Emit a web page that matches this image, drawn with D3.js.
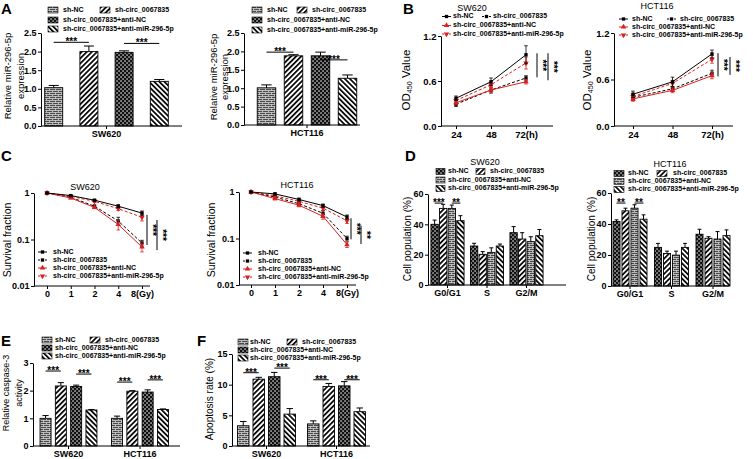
<!DOCTYPE html>
<html><head><meta charset="utf-8">
<script src="https://cdn.jsdelivr.net/npm/d3@7"></script>
<style>
body{margin:0;background:#fff}
svg{display:block;font-family:"Liberation Sans",Arial,Helvetica,sans-serif}
</style></head><body>
<svg id="fig" width="753" height="459"></svg>
<script>
// ---------------- DATA ----------------
const groups = ["sh-NC","sh-circ_0067835","sh-circ_0067835+anti-NC","sh-circ_0067835+anti-miR-296-5p"];

// A: relative miR-296-5p expression (group order)
const aSW620 = [1.03, 2.00, 1.98, 1.20];
const aSW620Err = [0.06, 0.15, 0.04, 0.05];
const aHCT116 = [1.01, 1.88, 1.88, 1.27];
const aHCT116Err = [0.08, 0.03, 0.10, 0.09];
const aTicks = [0, 0.5, 1.0, 1.5, 2.0, 2.5];

// B: OD450 value over time [group][time]
const hours = ["24","48","72(h)"];
const bSW620 = [[0.37,0.59,0.95],[0.29,0.48,0.64],[0.31,0.48,0.59],[0.34,0.55,0.84]];
const bSW620Err = [[0.03,0.05,0.12],[0.03,0.04,0.03],[0.03,0.04,0.03],[0.03,0.04,0.08]];
const bHCT116 = [[0.41,0.57,0.93],[0.37,0.48,0.68],[0.35,0.46,0.65],[0.38,0.55,0.86]];
const bHCT116Err = [[0.04,0.06,0.05],[0.04,0.03,0.04],[0.03,0.03,0.04],[0.04,0.04,0.05]];
const bTicks = [0, 0.6, 1.2];

// C: survival fraction [group][dose]
const doses = ["0","1","2","4","8(Gy)"];
const cSW620 = [[1,0.88,0.70,0.52,0.37],[1,0.81,0.52,0.25,0.084],[1,0.78,0.49,0.21,0.069],[1,0.85,0.66,0.46,0.30]];
const cSW620Err = [[0.01,0.03,0.03,0.04,0.04],[0.01,0.03,0.03,0.05,0.012],[0.01,0.03,0.03,0.05,0.015],[0.01,0.03,0.03,0.04,0.05]];
const cHCT116 = [[1,0.91,0.69,0.51,0.29],[1,0.78,0.56,0.35,0.10],[1,0.72,0.52,0.30,0.074],[1,0.83,0.63,0.45,0.24]];
const cHCT116Err = [[0.02,0.05,0.05,0.04,0.03],[0.02,0.04,0.04,0.05,0.012],[0.02,0.04,0.04,0.04,0.01],[0.02,0.04,0.04,0.05,0.03]];
const cTicks = [0.01, 0.1, 1];

// D: cell population (%) [group][phase]
const phases = ["G0/G1","S","G2/M"];
const dSW620 = [[40,25.7,34.5],[50.5,20.2,30.3],[50.5,21.5,28.6],[42.4,25.7,32.5]];
const dSW620Err = [[2.8,1.8,4],[2.7,1.8,4.2],[2.2,3,3.2],[3.3,1.3,4.1]];
const dHCT116 = [[41.6,24.9,33.4],[48.5,21,30.8],[50.2,19.9,30.3],[43.1,24.9,32.5]];
const dHCT116Err = [[1.1,2.6,3.2],[1.7,1.5,1],[2.2,2.6,4.8],[2.8,2.6,3.7]];
const dTicks = [0, 20, 40, 60];

// E: relative caspase-3 activity [group][cell]
const cells = ["SW620","HCT116"];
const eCaspase = [[1.0,1.0],[2.17,1.98],[2.15,1.95],[1.30,1.32]];
const eCaspaseErr = [[0.1,0.08],[0.12,0.02],[0.05,0.08],[0.02,0.02]];
const eTicks = [0, 1, 2, 3];

// F: apoptosis rate (%) [group][cell]
const fApop = [[3.3,3.6],[10.9,9.7],[11.3,9.8],[5.2,5.6]];
const fApopErr = [[0.7,0.5],[0.3,0.5],[0.7,0.7],[0.9,0.6]];
const fTicks = [0, 5, 10, 15];

// significance annotations
const aSW620Sig = [{cat:"SW620",a:0,b:1,v:2.25,label:"***"},{cat:"SW620",a:2,b:3,v:2.22,label:"***"}];
const aHCT116Sig = [{cat:"HCT116",a:0,b:1,v:1.98,label:"***"},{cat:"HCT116",a:2,b:3,v:1.77,label:"***"}];
const bSW620Sig = [{v1:0.97,v2:0.65,label:"***"},{v1:0.97,v2:0.61,label:"***"}];
const bHCT116Sig = [{v1:0.94,v2:0.64,label:"***"},{v1:0.89,v2:0.66,label:"***"}];
const cSW620Sig = [{v1:0.337,v2:0.076,label:"***"},{v1:0.263,v2:0.059,label:"***"}];
const cHCT116Sig = [{v1:0.272,v2:0.096,label:"***"},{v1:0.186,v2:0.076,label:"**"}];
const dSW620Sig = [{cat:"G0/G1",a:0,b:1,v:54,label:"***"},{cat:"G0/G1",a:2,b:3,v:54,label:"**"}];
const dHCT116Sig = [{cat:"G0/G1",a:0,b:1,v:53.5,label:"**"},{cat:"G0/G1",a:2,b:3,v:53.5,label:"**"}];
const eSig = [{cat:"SW620",a:0,b:1,v:2.71,label:"***"},{cat:"SW620",a:2,b:3,v:2.6,label:"***"},{cat:"HCT116",a:0,b:1,v:2.31,label:"***"},{cat:"HCT116",a:2,b:3,v:2.39,label:"***"}];
const fSig = [{cat:"SW620",a:0,b:1,v:11.95,label:"***"},{cat:"SW620",a:2,b:3,v:12.7,label:"***"},{cat:"HCT116",a:0,b:1,v:10.8,label:"***"},{cat:"HCT116",a:2,b:3,v:10.8,label:"***"}];

// ---------------- DRAWING ----------------
const svg = d3.select("#fig");
const defs = svg.append("defs");
const RED = "#dc1f1f";
const LEG_FS = 7;

(function patterns(){
  const brick = defs.append("pattern").attr("id","pBrick").attr("patternUnits","userSpaceOnUse").attr("width",6).attr("height",4);
  brick.append("rect").attr("width",6).attr("height",4).attr("fill","#4a4a4a");
  brick.append("path").attr("d","M0,0.5H6M0,2.5H6M1.5,0.5V2.5M4.5,2.5V4.5").attr("stroke","#e8e8e8").attr("stroke-width",0.7).attr("fill","none");
  const fwd = defs.append("pattern").attr("id","pFwd").attr("patternUnits","userSpaceOnUse").attr("width",3.6).attr("height",3.6).attr("patternTransform","rotate(45)");
  fwd.append("rect").attr("width",3.6).attr("height",3.6).attr("fill","#fff");
  fwd.append("rect").attr("width",1.7).attr("height",3.6).attr("fill","#000");
  const back = defs.append("pattern").attr("id","pBack").attr("patternUnits","userSpaceOnUse").attr("width",3.6).attr("height",3.6).attr("patternTransform","rotate(-45)");
  back.append("rect").attr("width",3.6).attr("height",3.6).attr("fill","#fff");
  back.append("rect").attr("width",1.7).attr("height",3.6).attr("fill","#000");
  const chk = defs.append("pattern").attr("id","pChk").attr("patternUnits","userSpaceOnUse").attr("width",4).attr("height",4);
  chk.append("rect").attr("width",4).attr("height",4).attr("fill","#111");
  chk.append("rect").attr("x",0.4).attr("y",0.4).attr("width",1.3).attr("height",1.3).attr("fill","#fff");
  chk.append("rect").attr("x",2.4).attr("y",2.4).attr("width",1.3).attr("height",1.3).attr("fill","#fff");
})();

const fillsStd = ["url(#pBrick)","url(#pFwd)","url(#pChk)","url(#pBack)"];
const fillsD = ["url(#pChk)","url(#pFwd)","url(#pBrick)","url(#pBack)"];

function styleAxis(ax, fs){
  ax.selectAll("path,line").attr("stroke","#000").attr("stroke-width",1);
  ax.selectAll("text").attr("font-size",fs||9).attr("font-weight","bold").attr("fill","#000");
}

function yLabel(g, lines, xs, cy, fs){
  lines.forEach((t,i)=>{
    const tx = g.append("text").attr("transform",`translate(${xs[i]},${cy}) rotate(-90)`)
      .attr("text-anchor","middle").attr("dominant-baseline","middle").attr("font-size",fs).attr("fill","#000");
    if (typeof t === "string") tx.text(t);
    else t.forEach(p=>{ const s=tx.append("tspan").text(p.t); if(p.sub){s.attr("font-size",fs*0.62).attr("dy",3);} else if(p.after){s.attr("dy",-3);} });
  });
}

function panelLetter(t,x,y){
  svg.append("text").attr("x",x).attr("y",y).text(t).attr("font-size",15).attr("font-weight","bold").attr("fill","#000");
}

function barPanel(o){
  const g = svg.append("g");
  const y = d3.scaleLinear().domain([0,o.yMax]).range([o.yBot,o.yTop]);
  const gw = 3*o.innerStep + o.bw;
  const n = o.cats.length;
  const x = d3.scaleBand().domain(o.cats)
    .range([o.c0 - gw/2, o.c0 + (n-1)*o.catStep + gw/2])
    .paddingInner(n>1 ? 1 - gw/o.catStep : 0).paddingOuter(0);
  const xi = d3.scaleBand().domain(groups).range([0,gw]).paddingInner(1 - o.bw/o.innerStep).paddingOuter(0);
  const bw = xi.bandwidth();
  const cx = (cat,gi)=> x(cat) + xi(groups[gi]) + bw/2;
  // error bars
  groups.forEach((gr,gi)=>{
    o.cats.forEach((cat,ci)=>{
      const v=o.values[gi][ci], e=o.errs[gi][ci], xc=cx(cat,gi);
      g.append("line").attr("x1",xc).attr("x2",xc).attr("y1",y(v)).attr("y2",y(v+e)).attr("stroke","#000").attr("stroke-width",1);
      g.append("line").attr("x1",xc-bw*0.28).attr("x2",xc+bw*0.28).attr("y1",y(v+e)).attr("y2",y(v+e)).attr("stroke","#000").attr("stroke-width",1);
    });
  });
  // bars
  groups.forEach((gr,gi)=>{
    g.append("g").selectAll("rect").data(o.cats).join("rect")
      .attr("x",c=>x(c)+xi(gr)).attr("width",bw)
      .attr("y",(c,ci)=>y(o.values[gi][ci])).attr("height",(c,ci)=>o.yBot - y(o.values[gi][ci]))
      .attr("fill",o.fills[gi]).attr("stroke","#000").attr("stroke-width",0.9);
  });
  // axes
  const ya = g.append("g").attr("transform",`translate(${o.x0},0)`)
    .call(d3.axisLeft(y).tickValues(o.ticks).tickFormat(o.fmt).tickSize(3).tickSizeOuter(0).tickPadding(1.5));
  styleAxis(ya, o.tickFs);
  const xa = g.append("g").attr("transform",`translate(0,${o.yBot})`)
    .call(d3.axisBottom(x).tickSize(3).tickPadding(2));
  xa.select(".domain").remove();
  styleAxis(xa, o.tickFs);
  g.append("line").attr("x1",o.x0).attr("x2",o.x1).attr("y1",o.yBot).attr("y2",o.yBot).attr("stroke","#000").attr("stroke-width",1);
  // significance
  o.sig.forEach(s=>{
    const x1=cx(s.cat,s.a), x2=cx(s.cat,s.b), yy=y(s.v);
    g.append("line").attr("x1",x1).attr("x2",x2).attr("y1",yy).attr("y2",yy).attr("stroke","#000").attr("stroke-width",1);
    g.append("text").attr("x",(x1+x2)/2).attr("y",yy+3).attr("text-anchor","middle").attr("font-size",10).attr("font-weight","bold").text(s.label);
  });
  // legend
  const L = o.legend;
  groups.forEach((gr,gi)=>{
    const row=[0,0,1,2][gi], col=[0,1,0,0][gi];
    const ry=L.rows[row];
    g.append("rect").attr("x",col?L.sx2:L.sx1).attr("y",ry-3).attr("width",L.sw).attr("height",6)
      .attr("fill",o.fills[gi]).attr("stroke","#000").attr("stroke-width",0.6);
    g.append("text").attr("x",col?L.tx2:L.tx1).attr("y",ry).attr("dominant-baseline","middle")
      .attr("font-size",LEG_FS).attr("font-weight","bold").text(gr);
  });
  if (o.title) g.append("text").attr("x",o.title.x).attr("y",o.title.y).attr("text-anchor","middle").attr("font-size",9).text(o.title.t);
  yLabel(g, o.ylab.lines, o.ylab.xs, o.ylab.cy, o.ylab.fs);
}

const lineStyles = [
  {c:"#000",dash:null,sym:d3.symbolSquare,rot:0,size:11},
  {c:"#000",dash:"3,2",sym:d3.symbolSquare,rot:0,size:11},
  {c:RED,dash:null,sym:d3.symbolTriangle,rot:0,size:13},
  {c:RED,dash:"3,2",sym:d3.symbolTriangle,rot:180,size:13}
];

function linePanel(o){
  const g = svg.append("g");
  const x = d3.scalePoint().domain(o.cats).range([o.px0,o.px1]);
  const y = o.log ? d3.scaleLog().domain([0.01,1]).range([o.yBot,o.yTop])
                  : d3.scaleLinear().domain([0,o.yMax]).range([o.yBot,o.yTop]);
  // axes
  const ya = g.append("g").attr("transform",`translate(${o.x0},0)`)
    .call(d3.axisLeft(y).tickValues(o.ticks).tickFormat(o.fmt).tickSize(3).tickSizeOuter(0).tickPadding(1.5));
  styleAxis(ya, o.tickFs);
  const xa = g.append("g").attr("transform",`translate(0,${o.yBot})`)
    .call(d3.axisBottom(x).tickSize(3).tickPadding(2));
  xa.select(".domain").remove();
  styleAxis(xa, o.tickFs);
  g.append("line").attr("x1",o.x0).attr("x2",o.x1).attr("y1",o.yBot).attr("y2",o.yBot).attr("stroke","#000").attr("stroke-width",1);
  const order=[1,2,3,0];
  order.forEach(gi=>{
    const st=lineStyles[gi];
    o.cats.forEach((c,i)=>{
      const v=o.values[gi][i], e=o.errs[gi][i], xc=x(c);
      const lo=Math.max(v-e, o.log?0.011:0);
      g.append("line").attr("x1",xc).attr("x2",xc).attr("y1",y(lo)).attr("y2",y(v+e)).attr("stroke",st.c).attr("stroke-width",0.8);
      [lo,v+e].forEach(w=>g.append("line").attr("x1",xc-1.8).attr("x2",xc+1.8).attr("y1",y(w)).attr("y2",y(w)).attr("stroke",st.c).attr("stroke-width",0.8));
    });
    const line=d3.line().x((d,i)=>x(o.cats[i])).y(d=>y(d));
    g.append("path").attr("d",line(o.values[gi])).attr("fill","none").attr("stroke",st.c).attr("stroke-width",1)
      .attr("stroke-dasharray",st.dash);
    g.append("g").selectAll("path").data(o.values[gi]).join("path")
      .attr("d",d3.symbol().type(st.sym).size(st.size))
      .attr("transform",(d,i)=>`translate(${x(o.cats[i])},${y(d)}) rotate(${st.rot})`)
      .attr("fill",st.c);
  });
  // significance (vertical)
  o.sig.forEach((s,k)=>{
    const xx=o.px1+o.sigDx[k];
    g.append("line").attr("x1",xx).attr("x2",xx).attr("y1",y(s.v1)).attr("y2",y(s.v2)).attr("stroke","#000").attr("stroke-width",1);
    g.append("text").attr("transform",`translate(${xx+1.5},${(y(s.v1)+y(s.v2))/2}) rotate(90)`)
      .attr("text-anchor","middle").attr("font-size",10).attr("font-weight","bold").text(s.label);
  });
  // legend
  const L=o.legend;
  groups.forEach((gr,gi)=>{
    const st=lineStyles[gi];
    const row=L.rowOf[gi], col=L.colOf[gi], ry=L.rows[row];
    const sx=col?L.sx2:L.sx1;
    g.append("line").attr("x1",sx).attr("x2",sx+L.len).attr("y1",ry).attr("y2",ry).attr("stroke",st.c).attr("stroke-width",1).attr("stroke-dasharray",st.dash?"2,1.5":null);
    g.append("path").attr("d",d3.symbol().type(st.sym).size(st.size)()).attr("transform",`translate(${sx+L.len/2},${ry}) rotate(${st.rot})`).attr("fill",st.c);
    g.append("text").attr("x",col?L.tx2:L.tx1).attr("y",ry).attr("dominant-baseline","middle")
      .attr("font-size",LEG_FS).attr("font-weight","bold").text(gr);
  });
  g.append("text").attr("x",o.title.x).attr("y",o.title.y).attr("text-anchor","middle").attr("font-size",9).text(o.title.t);
  yLabel(g, o.ylab.lines, o.ylab.xs, o.ylab.cy, o.ylab.fs);
}

const f1 = d3.format(".1f"), fd = d3.format("d");

// ---- Panel A ----
panelLetter("A",1,14);
barPanel({cats:["SW620"],values:aSW620.map(v=>[v]),errs:aSW620Err.map(v=>[v]),fills:fillsStd,
  x0:41,x1:182,yTop:33,yBot:126,yMax:2.5,ticks:aTicks,fmt:f1,tickFs:9,
  c0:106.5,catStep:1,innerStep:35.2,bw:18,sig:aSW620Sig,
  legend:{sx1:48,sx2:100,tx1:63,tx2:115,sw:10,rows:[10,20,29]},
  ylab:{lines:["Relative  miR-296-5p","expression"],xs:[8,21],cy:76,fs:9.5}});
barPanel({cats:["HCT116"],values:aHCT116.map(v=>[v]),errs:aHCT116Err.map(v=>[v]),fills:fillsStd,
  x0:244,x1:360,yTop:33,yBot:125,yMax:2.5,ticks:aTicks,fmt:f1,tickFs:9,
  c0:307,catStep:1,innerStep:27,bw:18.5,sig:aHCT116Sig,
  legend:{sx1:252,sx2:297,tx1:267,tx2:312,sw:10,rows:[10,20,30]},
  ylab:{lines:["Relative  miR-296-5p","expression"],xs:[214,225],cy:77,fs:9.5}});

// ---- Panel B ----
panelLetter("B",403,14);
const odLabel = [[{t:"OD"},{t:"450",sub:true},{t:" Value",after:true}]];
linePanel({cats:hours,values:bSW620,errs:bSW620Err,log:false,yMax:1.2,ticks:bTicks,fmt:f1,tickFs:9.5,
  x0:441,x1:553,px0:456,px1:526,yTop:36,yBot:126,sig:bSW620Sig,sigDx:[11,22],
  title:{t:"SW620",x:472,y:10.5},
  legend:{sx1:442,sx2:482,tx1:453,tx2:493,len:9,rows:[16.5,25.5,34],rowOf:[0,0,1,2],colOf:[0,1,0,0]},
  ylab:{lines:odLabel,xs:[407],cy:80,fs:11.5}});
linePanel({cats:hours,values:bHCT116,errs:bHCT116Err,log:false,yMax:1.2,ticks:bTicks,fmt:f1,tickFs:9.5,
  x0:614,x1:733,px0:633,px1:712,yTop:33,yBot:126,sig:bHCT116Sig,sigDx:[6,18],
  title:{t:"HCT116",x:657,y:8.5},
  legend:{sx1:619,sx2:667,tx1:632,tx2:680,len:9,rows:[19,27,35],rowOf:[0,0,1,2],colOf:[0,1,0,0]},
  ylab:{lines:odLabel,xs:[588],cy:80,fs:11.5}});

// ---- Panel C ----
panelLetter("C",1,161);
const logFmt = d=>String(d);
linePanel({cats:doses,values:cSW620,errs:cSW620Err,log:true,ticks:cTicks,fmt:logFmt,tickFs:9,
  x0:34,x1:150,px0:47,px1:142,yTop:193,yBot:286,sig:cSW620Sig,sigDx:[5,15],
  title:{t:"SW620",x:85,y:190},
  legend:{sx1:38,sx2:38,tx1:53,tx2:53,len:9,rows:[252,260,268,276],rowOf:[0,1,2,3],colOf:[0,0,0,0]},
  ylab:{lines:["Survival fraction"],xs:[8],cy:240,fs:10.5}});
linePanel({cats:doses,values:cHCT116,errs:cHCT116Err,log:true,ticks:cTicks,fmt:logFmt,tickFs:9,
  x0:239,x1:356,px0:251,px1:347,yTop:192,yBot:285,sig:cHCT116Sig,sigDx:[4,14],
  title:{t:"HCT116",x:297,y:188},
  legend:{sx1:243,sx2:243,tx1:258,tx2:258,len:9,rows:[253,261,269,277],rowOf:[0,1,2,3],colOf:[0,0,0,0]},
  ylab:{lines:["Survival fraction"],xs:[212],cy:240,fs:10.5}});

// ---- Panel D ----
panelLetter("D",405,161);
barPanel({cats:phases,values:dSW620,errs:dSW620Err,fills:fillsD,
  x0:428,x1:566,yTop:194,yBot:285,yMax:60,ticks:dTicks,fmt:fd,tickFs:9,
  c0:447.5,catStep:39.5,innerStep:8.6,bw:7.3,sig:dSW620Sig,
  legend:{sx1:436,sx2:476,tx1:448,tx2:490,sw:9,rows:[171.5,180,188.5]},
  title:{t:"SW620",x:485,y:165},
  ylab:{lines:["Cell population (%)"],xs:[408],cy:239,fs:10}});
barPanel({cats:phases,values:dHCT116,errs:dHCT116Err,fills:fillsD,
  x0:611,x1:729,yTop:193,yBot:286,yMax:60,ticks:dTicks,fmt:fd,tickFs:9,
  c0:630,catStep:41.5,innerStep:9,bw:7,sig:dHCT116Sig,
  legend:{sx1:614,sx2:657,tx1:628,tx2:673,sw:10,rows:[173.5,181.5,189.5]},
  title:{t:"HCT116",x:670,y:167},
  ylab:{lines:["Cell population (%)"],xs:[592],cy:239,fs:10}});

// ---- Panel E ----
panelLetter("E",1,346);
barPanel({cats:cells,values:eCaspase,errs:eCaspaseErr,fills:fillsStd,
  x0:33,x1:180,yTop:363,yBot:446,yMax:3,ticks:eTicks,fmt:fd,tickFs:9,
  c0:68.5,catStep:71.5,innerStep:15.3,bw:11,sig:eSig,
  legend:{sx1:42,sx2:90,tx1:55,tx2:105,sw:10,rows:[340,348,356]},
  ylab:{lines:["Relative caspase-3","activity"],xs:[7,20],cy:393,fs:9}});

// ---- Panel F ----
panelLetter("F",197,346);
barPanel({cats:cells,values:fApop,errs:fApopErr,fills:fillsStd,
  x0:232,x1:370,yTop:354,yBot:446,yMax:15,ticks:fTicks,fmt:fd,tickFs:9,
  c0:266.5,catStep:70,innerStep:15.5,bw:11.5,sig:fSig,
  legend:{sx1:238,sx2:287,tx1:250,tx2:302,sw:10,rows:[342,350,358]},
  ylab:{lines:["Apoptosis rate (%)"],xs:[210],cy:399,fs:10}});
</script>
</body></html>
